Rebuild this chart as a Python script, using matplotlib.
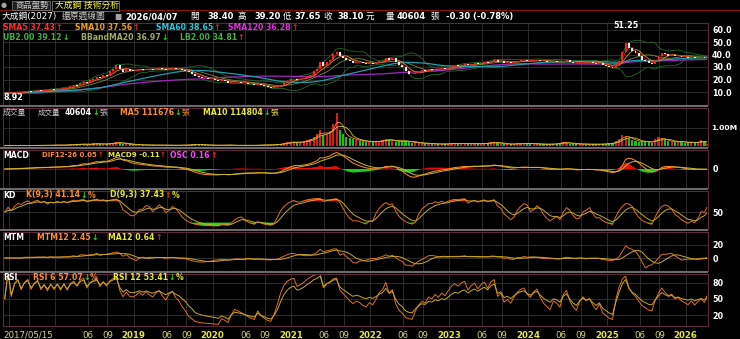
import numpy as np
import pandas as pd
import matplotlib
matplotlib.use("Agg")
import matplotlib.pyplot as plt
from matplotlib.patches import Rectangle
from matplotlib.ticker import FuncFormatter

# ---------------- data (semi-monthly closes) ----------------
c2017 = [9.1, 9.4, 9.2, 9.6, 9.9, 9.7, 10.2, 10.6, 10.3, 10.9, 11.4, 11.0, 11.6, 11.3, 12.2, 11.9]
c2018 = [12.8, 12.4, 13.6, 13.1, 14.6, 15.4, 15.0, 17.2, 18.4, 17.3, 19.6, 20.8, 22.3, 21.2, 23.8, 23.1,
         26.5, 28.8, 31.5, 28.4, 26.4, 28.4, 27.2, 27.0]
c2019 = [27.5, 28.3, 27.8, 28.6, 28.2, 27.9, 28.5, 28.9, 28.4, 28.0, 28.6, 29.0, 28.5, 28.2, 27.6, 27.0,
         25.8, 24.8, 23.0, 22.2, 21.5, 21.0, 20.6, 20.2]
c2020 = [19.8, 19.2, 19.5, 18.8, 17.2, 17.8, 18.2, 17.9, 17.6, 17.2, 16.8, 16.3, 16.0, 16.4, 15.5, 14.8,
         13.9, 13.4, 13.8, 14.5, 15.8, 17.5, 19.0, 20.2]
c2021 = [20.8, 20.0, 20.5, 21.3, 22.6, 24.0, 26.5, 28.2, 34.0, 30.5, 33.8, 36.0, 40.5, 42.0, 38.5, 37.2,
         36.0, 34.6, 33.5, 34.2, 33.8, 33.0, 32.6, 33.2]
c2022 = [32.8, 33.5, 34.6, 35.2, 37.5, 36.0, 37.0, 34.0, 31.5, 29.8, 26.5, 24.8, 24.2, 25.6, 26.8, 27.6,
         27.2, 28.3, 28.0, 28.8, 28.4, 29.1, 28.8, 29.6]
c2023 = [30.5, 31.2, 31.0, 31.8, 32.2, 31.6, 32.4, 33.0, 32.6, 33.4, 34.0, 33.6, 35.2, 36.0, 34.2, 34.8,
         33.4, 33.8, 33.2, 34.0, 34.8, 35.3, 35.6, 35.1]
c2024 = [34.8, 35.4, 35.8, 35.2, 34.6, 34.2, 33.8, 34.4, 34.2, 33.8, 34.8, 35.3, 34.4, 33.6, 33.0, 33.8,
         34.3, 33.9, 34.1, 33.4, 32.8, 33.2, 31.8, 31.0]
c2025 = [30.0, 29.3, 31.5, 35.0, 42.0, 49.5, 45.0, 42.5, 41.0, 38.5, 36.0, 34.5, 33.0, 32.5, 35.5, 38.5,
         41.5, 40.2, 39.2, 39.8, 38.6, 38.9, 38.2, 37.8]
c2026 = [37.4, 37.9, 37.2, 37.6, 37.9, 37.5, 38.1]
first_open = 8.95

# volume, thousands of lots
v2017 = [40, 55, 35, 60, 45, 70, 50, 45, 65, 50, 55, 75, 60, 50, 80, 65]
v2018 = [85, 70, 60, 95, 110, 90, 120, 150, 110, 95, 130, 160, 170, 120, 110, 140, 180, 200, 230, 190,
         150, 120, 110, 90]
v2019 = [80, 95, 70, 65, 75, 60, 70, 85, 65, 60, 70, 55, 60, 75, 65, 70, 90, 110, 120, 95, 80, 70, 60, 65]
v2020 = [70, 60, 55, 90, 75, 60, 55, 50, 60, 55, 65, 60, 55, 70, 80, 90, 75, 85, 100, 110, 150, 180, 220, 260]
v2021 = [240, 200, 230, 280, 350, 420, 500, 650, 900, 600, 700, 850, 1200, 1800, 900, 650, 520, 450, 380,
         330, 300, 280, 260, 240]
v2022 = [250, 270, 300, 330, 420, 350, 300, 250, 280, 320, 300, 240, 200, 220, 180, 170, 150, 160, 140,
         130, 120, 140, 130, 150]
v2023 = [180, 160, 150, 140, 170, 150, 130, 160, 150, 140, 170, 200, 250, 230, 160, 140, 130, 120, 130,
         140, 160, 150, 170, 160]
v2024 = [150, 140, 130, 120, 110, 130, 120, 140, 150, 210, 260, 180, 140, 130, 120, 140, 130, 120, 110,
         130, 120, 110, 140, 150]
v2025 = [160, 200, 280, 420, 600, 550, 450, 350, 300, 250, 220, 280, 260, 200, 380, 500, 420, 330, 280,
         240, 220, 300, 260, 200]
v2026 = [180, 220, 260, 200, 330, 250, 150]

peak_high = 51.25
low_mark = 8.92

# ---------------- derived series ----------------
close = pd.Series(c2017 + c2018 + c2019 + c2020 + c2021 + c2022 + c2023 + c2024 + c2025 + c2026)
vol = pd.Series(v2017 + v2018 + v2019 + v2020 + v2021 + v2022 + v2023 + v2024 + v2025 + v2026) * 1000.0

dates = []
y, m = 2017, 5
while (y, m) <= (2026, 3):
    dates.append((y, m, 12))
    dates.append((y, m, 27))
    m += 1
    if m == 13:
        y, m = y + 1, 1
dates.append((2026, 4, 7))
x = np.array([(yy - 2017) * 12 + (mm - 5) + (dd - 1) / 30.0 for yy, mm, dd in dates])

opn = close.shift(1).fillna(first_open)
up = close >= opn

sma5 = close.rolling(3, min_periods=1).mean()
sma10 = close.rolling(5, min_periods=1).mean()
sma60 = close.rolling(30, min_periods=1).mean()
sma120 = close.rolling(60, min_periods=1).mean()
bbm = close.rolling(10, min_periods=1).mean()
bbs = close.rolling(10, min_periods=2).std(ddof=0).bfill()
ub = bbm + 2 * bbs
lb = bbm - 2 * bbs

vma5 = vol.rolling(3, min_periods=1).mean()
vma10 = vol.rolling(5, min_periods=1).mean()

dif = close.ewm(span=6, adjust=False).mean() - close.ewm(span=13, adjust=False).mean()
dea = dif.ewm(span=5, adjust=False).mean()
osc = dif - dea

lo = close.rolling(5, min_periods=1).min()
hi = close.rolling(5, min_periods=1).max()
rsv = ((close - lo) / (hi - lo).replace(0, np.nan) * 100).fillna(50)
K = np.zeros(len(close)); D = np.zeros(len(close))
k, d = 50.0, 50.0
for i, r in enumerate(rsv):
    k = 2 / 3 * k + r / 3
    d = 2 / 3 * d + k / 3
    K[i], D[i] = k, d

mtm = (close - close.shift(6)).fillna(0)
mtm_ma = mtm.rolling(6, min_periods=1).mean()

def rsi(s, n):
    dlt = s.diff().fillna(0)
    g = dlt.clip(lower=0).ewm(alpha=1 / n, adjust=False).mean()
    l = (-dlt.clip(upper=0)).ewm(alpha=1 / n, adjust=False).mean()
    return (100 * g / (g + l).replace(0, np.nan)).fillna(50)

rsi6 = rsi(close, 5)
rsi12 = rsi(close, 9)

# ---------------- figure ----------------
W, H = 740, 339
fig = plt.figure(figsize=(W / 100, H / 100), dpi=100, facecolor="black")
FAM = ["DejaVu Sans", "Noto Sans CJK TC"]
renderer = fig.canvas.get_renderer()

XL, XR = 3, 708
xlim = (0.1, 107.4)

def mkax(top, bot):
    ax = fig.add_axes([XL / W, 1 - bot / H, (XR - XL) / W, (bot - top) / H])
    ax.set_facecolor("black")
    ax.set_xlim(*xlim)
    for sp in ax.spines.values():
        sp.set_color("#5a2a3a"); sp.set_linewidth(0.8)
    ax.tick_params(axis="x", bottom=False, labelbottom=False)
    ax.yaxis.tick_right()
    ax.tick_params(axis="y", length=0, pad=3, labelcolor="white", labelsize=5.8)
    return ax

ticks = []
for yy in range(2017, 2027):
    for mm, lab in ((1, str(yy)), (6, "06"), (9, "09")):
        xm = (yy - 2017) * 12 + (mm - 5)
        if xm <= 0 or xm > 107.2:
            continue
        ticks.append((xm, lab, mm == 1))

def grid(ax, yt, fmt=None):
    for xm, _, _ in ticks:
        ax.axvline(xm, color="#333333", lw=0.6, zorder=0)
    for v in yt:
        ax.axhline(v, color="#333333", lw=0.6, zorder=0)
    ax.set_yticks(yt)
    if fmt is not None:
        ax.yaxis.set_major_formatter(FuncFormatter(fmt))
    for t in ax.get_yticklabels():
        t.set_fontweight("bold")

# price
axp = mkax(23, 105)
axp.set_ylim(-0.4, 65.2)
grid(axp, [10, 20, 30, 40, 50, 60], lambda v, p: f"{v:.1f}")
axp.plot(x, ub, color="#236b2a", lw=0.6)
axp.plot(x, lb, color="#236b2a", lw=0.6)
axp.plot(x, bbm, color="#7d8a3a", lw=0.6)
axp.plot(x, sma120, color="#a028b8", lw=0.9)
axp.plot(x, sma60, color="#1fa0ac", lw=0.9)
axp.plot(x, sma10, color="#e09020", lw=0.6)
axp.plot(x, sma5, color="#d02020", lw=0.6)
bh = np.maximum((close - opn).abs().values, 0.3)
axp.bar(x, bh, bottom=np.minimum(close, opn).values, width=0.3,
        color=np.where(up, "#ff2020", "#e8e8e8"), linewidth=0, zorder=3)
ip = int(np.argmax(close.values))
axp.annotate(f"{peak_high:.2f}", (x[ip], close[ip]), xytext=(0, 9), textcoords="offset points",
             ha="center", va="bottom", color="white", fontsize=5.8, fontweight="bold")
axp.text(0.0, 0.04, f"{low_mark:.2f}", transform=axp.transAxes, ha="left", va="bottom",
         color="white", fontsize=5.8, fontweight="bold")

# volume
axv = mkax(108, 147)
axv.set_ylim(-0.03e6, 2.08e6)
grid(axv, [1e6], lambda v, p: f"{v/1e6:.2f}M")
axv.tick_params(axis="y", labelsize=5.4, pad=2)
axv.bar(x, vol, width=0.32, color=np.where(up, "#e01818", "#18c018"), linewidth=0, zorder=2)
axv.plot(x, vma5, color="#ff8c2a", lw=0.6, zorder=3)
axv.plot(x, vma10, color="#c8c830", lw=0.6, zorder=3)

# MACD
axm = mkax(150, 188)
mm_ = 1.15 * max(dif.abs().max(), dea.abs().max(), osc.abs().max())
axm.set_ylim(-mm_, mm_)
grid(axm, [0], lambda v, p: "0")
axm.fill_between(x, osc, 0, where=osc >= 0, color="#e01010", interpolate=True, lw=0)
axm.fill_between(x, osc, 0, where=osc < 0, color="#18d018", interpolate=True, lw=0)
axm.plot(x, dif, color="#ff9020", lw=0.7)
axm.plot(x, dea, color="#c8b830", lw=0.7)

# KD
axk = mkax(191, 229)
axk.set_ylim(-10.7, 125)
grid(axk, [50])
axk.fill_between(x, K, 88, where=K > 88, color="#e01010", interpolate=True, lw=0)
axk.fill_between(x, K, 12, where=K < 12, color="#18e018", interpolate=True, lw=0)
axk.plot(x, K, color="#e07020", lw=0.7)
axk.plot(x, D, color="#c8a828", lw=0.7)

# MTM
axt = mkax(232, 271)
axt.set_ylim(-20, 40)
grid(axt, [0, 20])
axt.plot(x, mtm, color="#e07020", lw=0.7)
axt.plot(x, mtm_ma, color="#c8a828", lw=0.7)

# RSI
axr = mkax(274, 326)
axr.set_ylim(-0.4, 96.2)
grid(axr, [20, 50, 80])
axr.plot(x, rsi6, color="#e07020", lw=0.7)
axr.plot(x, rsi12, color="#c8a828", lw=0.7)

# date labels
for xm, lab, isyear in ticks:
    xpx = XL + (xm - xlim[0]) / (xlim[1] - xlim[0]) * (XR - XL)
    if xpx < 60:
        continue
    fig.text(xpx / W, 1 - 335 / H, lab, ha="center", va="center", color="#e6e640" if isyear else "#d8d870",
             fontsize=6.2, fontweight="bold" if isyear else "normal", family=FAM)
fig.text(3 / W, 1 - 335 / H, "2017/05/15", ha="left", va="center", color="#d8d870", fontsize=6.2, family=FAM)

# separators
for yy in (106, 148, 189, 230, 272):
    fig.add_artist(Rectangle((0, 1 - (yy + 1) / H), XR / W, 2 / H, transform=fig.transFigure,
                             color="#6a6a6a", lw=0))

# ---------------- texts ----------------
def put(xpx, ypx, s, color, weight="bold", size=5.6):
    t = fig.text(xpx / W, 1 - ypx / H, s, color=color, fontsize=size, fontweight=weight,
                 va="center", ha="left", family=FAM)
    return xpx + t.get_window_extent(renderer).width, t

def row(ypx, groups, size=5.6, gap=0.5, minsize=5.0):
    """groups: list of (ref_x, limit, parts); each group shrinks a little if needed,
    then later groups are pushed right so nothing overlaps."""
    end = -10
    for i, (gx, parts) in enumerate(groups):
        gx = max(gx, end + 4)
        limit = groups[i + 1][0] if i + 1 < len(groups) else None
        sz = size
        while True:
            xs, arts = gx, []
            for s, c in parts:
                w = "normal" if any(ord(ch) > 0x3000 for ch in s) else "bold"
                xe, t = put(xs, ypx, s, c, weight=w, size=sz)
                arts.append(t)
                xs = xe + gap
            if limit is None or xs <= limit - 3 or sz <= minsize:
                break
            for t in arts:
                t.remove()
            sz = max(minsize, sz * 0.96)
        end = xs

RED, GRN = "#ff2020", "#20e020"
UPA, DNA = "\u2191", "\u2193"

# tab bar
fig.add_artist(Rectangle((0, 1 - 11 / H), 1, 1.2 / H, transform=fig.transFigure, color="#8a1010", lw=0))
fig.add_artist(Rectangle((12 / W, 1 - 10 / H), 38 / W, 9 / H, transform=fig.transFigure,
                         facecolor="#202020", edgecolor="#808080", lw=0.5))
fig.add_artist(Rectangle((52 / W, 1 - 11 / H), 67 / W, 10 / H, transform=fig.transFigure,
                         facecolor="#000000", edgecolor="#909090", lw=0.5))
put(1, 5, "\u25cf", "#a0a0a0", weight="normal", size=5)
put(15, 5.5, "商品盤勢", "#c8c8c8", weight="normal", size=6)
put(55, 5.5, "大成鋼 技術分析", "#ffff40", weight="normal", size=6.3)

# header (placed left to right, never overlapping)
HY = 16.5
xe = 0
for xp, s, w, sz in [(2, "大成鋼(2027)", "normal", 6.3), (62, "還原週線圖", "normal", 6.3),
                     (114, "\u25a0", "normal", 5.5), (125, "2026/04/07", "bold", 6.0),
                     (190, "開", "normal", 6.2), (207, "38.40", "bold", 6.0),
                     (238, "高", "normal", 6.2), (254, "39.20", "bold", 6.0),
                     (281, "低", "normal", 6.2), (294, "37.65", "bold", 6.0),
                     (323, "收", "normal", 6.2), (337, "38.10", "bold", 6.0),
                     (362, "元", "normal", 6.2), (386, "量", "normal", 6.2),
                     (397, "40604", "bold", 6.0), (430, "張", "normal", 6.2),
                     (446, "-0.30 (-0.78%)", "bold", 6.0)]:
    col = "#a0a0a0" if s == "\u25a0" else ("#d0d0d0" if s == "還原週線圖" else "white")
    xe, _ = put(max(xp, xe + 2), HY, s, col, weight=w, size=sz)

# price legends
row(28, [(3, [("SMA5 37.43", "#ff3030"), (UPA, RED)]),
         (75, [("SMA10 37.56", "#f0a020"), (UPA, RED)]),
         (156, [("SMA60 38.65", "#30c8d8"), (UPA, RED)]),
         (228, [("SMA120 36.28", "#e030e0"), (UPA, RED)])])
row(38, [(3, [("UB2.00 39.12", "#40b040"), (DNA, GRN)]),
         (81, [("BBandMA20 36.97", "#a0ae60"), (DNA, GRN)]),
         (180, [("LB2.00 34.81", "#40b040"), (UPA, RED)])])

# volume title
row(112.5, [(3, [("成交量", "#c8c8c8")]),
            (38, [("成交量", "#c8c8c8")]),
            (64, [("40604", "white"), (DNA, GRN), ("張", "#c8c8c8")]),
            (120, [("MA5 111676", "#ff8c2a"), (DNA, GRN), ("張", "#ff8c2a")]),
            (203, [("MA10 114804", "#e8e830"), (DNA, GRN), ("張", "#e8e830")])])

# MACD title
row(155, [(3, [("MACD", "white")]),
          (42, [("DIF12-26 0.05", "#ff8c2a"), (UPA, RED)]),
          (97, [("MACD9 -0.11", "#e8e830"), (UPA, RED)]),
          (170, [("OSC 0.16", "#ff40ff"), (UPA, RED)])])

# KD title
row(195, [(3, [("KD", "white")]),
          (26, [("K(9,3) 41.14", "#ff8c2a"), (DNA, GRN), ("%", "#ff8c2a")]),
          (110, [("D(9,3) 37.43", "#e8e830"), (UPA, RED), ("%", "#e8e830")])])

# MTM title
row(237, [(3, [("MTM", "white")]),
          (37, [("MTM12 2.45", "#ff8c2a"), (DNA, GRN)]),
          (108, [("MA12 0.64", "#e8e830"), (UPA, RED)])])

# RSI title
row(277, [(3, [("RSI", "white")]),
          (33, [("RSI 6 57.07", "#ff8c2a"), (DNA, GRN), ("%", "#ff8c2a")]),
          (113, [("RSI 12 53.41", "#e8e830"), (DNA, GRN), ("%", "#e8e830")])])

fig.savefig("out.png", dpi=100, facecolor="black")
